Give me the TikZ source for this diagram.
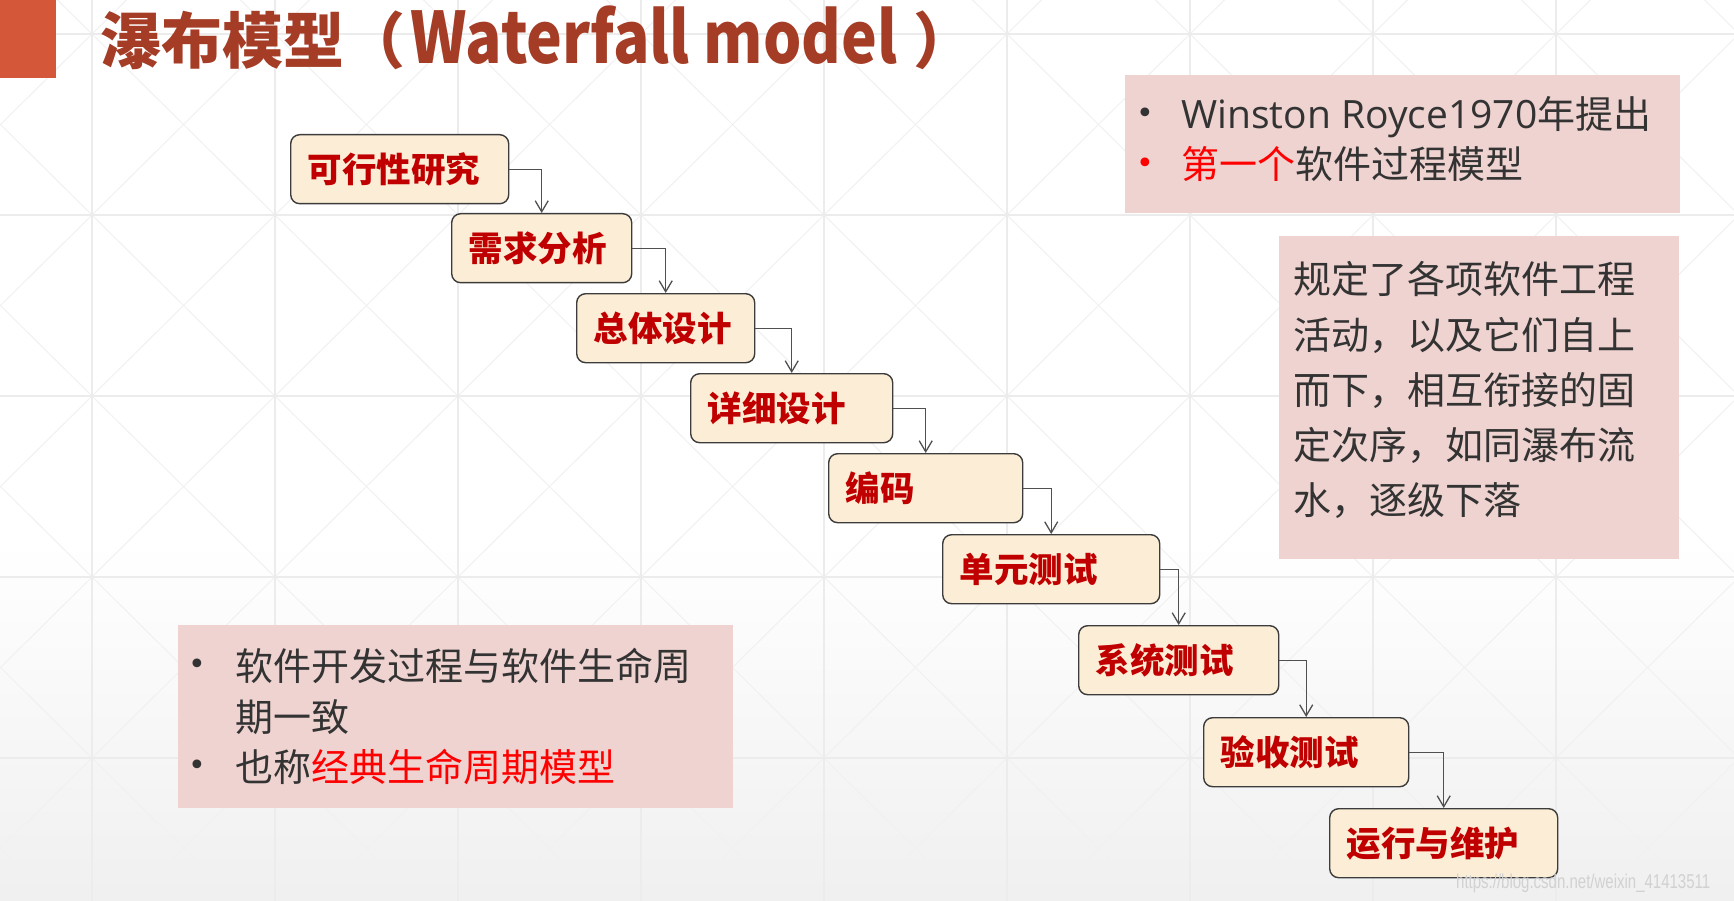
\documentclass[tikz,border=0pt]{standalone}
\usepackage{fontspec}
\usepackage{graphicx}
\setmainfont{Noto Sans CJK SC}
\newfontfamily\cjk{Noto Sans CJK SC}
\newfontfamily\latn{Open Sans}
\newfontfamily\dv{DejaVu Sans}
\newfontfamily\wmfont{Liberation Sans}
\usetikzlibrary{arrows.meta}
\definecolor{barred}{HTML}{D4573A}
\definecolor{titlered}{HTML}{A53D26}
\definecolor{stagered}{HTML}{C00000}
\definecolor{boxfill}{HTML}{FCEED6}
\definecolor{boxline}{HTML}{3C3C3C}
\definecolor{pinkbg}{HTML}{EED3D0}
\definecolor{bodytext}{HTML}{333333}
\definecolor{bright}{HTML}{FF0000}
\definecolor{gridline}{HTML}{ECECEC}
\definecolor{diagline}{HTML}{F1F1F1}
\tikzset{
  stage/.style={draw=boxline, fill=boxfill, line width=1.4pt, rounded corners=9pt,
    anchor=north west, minimum height=69pt, inner xsep=17pt, inner ysep=0pt,
    align=left, text=stagered, font=\cjk\bfseries\fontsize{34.5}{40}\selectfont},
  flow/.style={draw=boxline!90, line width=1.3pt, -{Straight Barb[length=11pt,width=13pt]}},
  panel/.style={fill=pinkbg, draw=none},
  body/.style={anchor=base west, inner sep=0pt, text=bodytext, font=\cjk\fontsize{38}{44}\selectfont},
  bullet/.style={anchor=center, inner sep=0pt, text=bodytext, font=\dv\fontsize{30}{36}\selectfont},
}
\begin{document}
\begin{tikzpicture}[x=1pt,y=-1pt]
\useasboundingbox (0,0) rectangle (1734,901);
% background
\fill[white] (0,0) rectangle (1734,901);
\fill[top color=white, bottom color=black!6] (0,540) rectangle (1734,901);
\begin{scope}
\clip (0,0) rectangle (1734,901);
\foreach \i in {-1,...,8}{
  \foreach \j in {-1,...,4}{
    \draw[diagline, line width=1pt] ({92+183*\i},{34+181*\j}) -- ++(183,181);
    \draw[diagline, line width=1pt] ({92+183*(\i+1)},{34+181*\j}) -- ++(-183,181);
  }
}
\foreach \i in {0,...,8}{ \draw[gridline, line width=1.5pt] ({92+183*\i},0) -- ({92+183*\i},901); }
\foreach \j in {0,...,4}{ \draw[gridline, line width=2pt] (0,{34+181*\j}) -- (1734,{34+181*\j}); }
\end{scope}
% title
\fill[barred] (0,0) rectangle (56,78);
\node[anchor=base west, inner sep=0pt, text=titlered, font=\cjk\bfseries\fontsize{61}{66}\selectfont] (title) at (100,64) {瀑布模型（\hspace{5pt}\scalebox{0.85}[1]{\fontsize{71}{72}\selectfont Waterfall model}\hspace{16pt}）};
% stages
\node[stage, text width=184pt] (s1) at (290,134) {可行性研究};
\node[stage, text width=146pt] (s2) at (451,213) {需求分析};
\node[stage, text width=144pt] (s3) at (576,293) {总体设计};
\node[stage, text width=168pt] (s4) at (690,373) {详细设计};
\node[stage, text width=160pt] (s5) at (828,453) {编码};
\node[stage, text width=183pt] (s6) at (942,534) {单元测试};
\node[stage, text width=166pt] (s7) at (1078,625) {系统测试};
\node[stage, text width=171pt] (s8) at (1203,717) {验收测试};
\node[stage, text width=194pt] (s9) at (1329,808) {运行与维护};
\draw[flow] (s1.east) -| (s2.north);
\draw[flow] (s2.east) -| (s3.north);
\draw[flow] (s3.east) -| (s4.north);
\draw[flow] (s4.east) -| (s5.north);
\draw[flow] (s5.east) -| (s6.north);
\draw[flow] (s6.east) -| (s7.north);
\draw[flow] (s7.east) -| (s8.north);
\draw[flow] (s8.east) -| (s9.north);
% top-right panel
\fill[panel] (1125,75) rectangle (1680,213);
\node[bullet] (tb1) at (1145,116) {•};
\node[body] (tl1) at (1181,129) {{\latn\fontsize{39}{44}\selectfont Winston Royce1970}年提出};
\node[bullet, text=bright] (tb2) at (1145,166) {•};
\node[body] (tl2) at (1181,179) {\textcolor{bright}{第一个}软件过程模型};
% right panel
\fill[panel] (1279,236) rectangle (1679,559);
\node[body] (r1) at (1293,294) {规定了各项软件工程};
\node[body] (r2) at (1293,349) {活动，以及它们自上};
\node[body] (r3) at (1293,404) {而下，相互衔接的固};
\node[body] (r4) at (1293,459) {定次序，如同瀑布流};
\node[body] (r5) at (1293,514) {水，逐级下落};
% bottom-left panel
\fill[panel] (178,625) rectangle (733,808);
\node[bullet] (lb1) at (197,667) {•};
\node[body] (l1) at (235,680) {软件开发过程与软件生命周};
\node[body] (l2) at (235,731) {期一致};
\node[bullet] (lb2) at (197,768) {•};
\node[body] (l3) at (235,781) {也称\textcolor{bright}{经典生命周期模型}};
% watermark
\node[anchor=west, inner sep=0pt, text=black!18, font=\wmfont\fontsize{20}{24}\selectfont, xscale=0.75] (wm) at (1456,883) {https://blog.csdn.net/weixin\_41413511};
\end{tikzpicture}
\end{document}
